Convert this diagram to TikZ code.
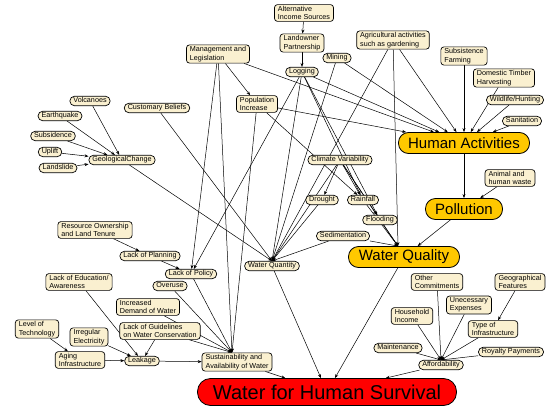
\documentclass[tikz,border=0pt]{standalone}
\usepackage{fontspec}
\setmainfont{Liberation Sans}
\usetikzlibrary{arrows.meta,backgrounds}
\definecolor{cream}{RGB}{250,240,208}
\definecolor{gold}{RGB}{255,200,0}
\begin{document}
\begin{tikzpicture}[x=1pt,y=-1pt,
  sm/.style={draw=black, line width=0.7pt, fill=cream, rounded corners=4.5pt,
    font=\fontsize{7.2}{8.5}\selectfont, inner xsep=3.5pt, inner ysep=1.3pt,
    text height=5.3pt, text depth=1.5pt},
  bx/.style={draw=black, line width=0.7pt, fill=cream, rounded corners=3pt,
    font=\fontsize{7.2}{8.5}\selectfont, align=left, inner xsep=3.5pt, inner ysep=1.5pt},
  big/.style={draw=black, line width=0.8pt, fill=gold, rounded corners=10pt,
    font=\fontsize{15}{16}\selectfont, minimum height=21pt, inner xsep=6pt, inner ysep=1pt},
  whsst/.style={draw=black, line width=0.8pt, fill=red, rounded corners=13pt,
    font=\fontsize{20}{22}\selectfont, minimum height=27pt, minimum width=259pt, inner ysep=1pt},
  edge/.style={-{Stealth[length=4pt,width=3pt]}, line width=0.5pt}]
\useasboundingbox (0,0) rectangle (551,409);
% top cluster
\node[bx] (alt) at (304,13) {Alternative\\Income Sources};
\node[bx] (land) at (302,43) {Landowner\\Partnership};
\node[sm] (mining) at (337,58) {Mining};
\node[sm] (logging) at (302,72) {Logging};
\node[bx] (agri) at (393,40) {Agricultural activities\\such as gardening};
\node[bx] (subs) at (464,56) {Subsistence\\Farming};
\node[bx] (dom) at (504,78) {Domestic Timber\\Harvesting};
\node[sm] (wild) at (515,100) {Wildlife/Hunting};
\node[sm] (sani) at (522,121) {Sanitation};
\node[big, minimum width=131pt] (ha) at (464,143) {Human Activities};
\node[bx] (waste) at (510,178) {Animal and\\human waste};
\node[big, minimum width=77pt] (poll) at (464,209) {Pollution};
\node[big, minimum width=111pt] (wqual) at (404,257) {Water Quality};
% middle
\node[sm] (cv) at (340,160) {Climate Variability};
\node[sm] (drought) at (322,200) {Drought};
\node[sm] (rain) at (363,200) {Rainfall};
\node[sm] (flood) at (380,220) {Flooding};
\node[sm] (sed) at (343,236) {Sedimentation};
\node[sm] (wqty) at (272,266) {Water Quantity};
\node[bx] (ml) at (218,54) {Management and\\Legislation};
\node[bx] (pop) at (257,104) {Population\\Increase};
\node[sm] (cust) at (157,108) {Customary Beliefs};
% geology
\node[sm] (volc) at (90,101) {Volcanoes};
\node[sm] (earth) at (60,116) {Earthquake};
\node[sm] (subsid) at (53,136) {Subsidence};
\node[sm] (uplift) at (50,152) {Uplift};
\node[sm] (lands) at (58,168) {Landslide};
\node[sm] (geo) at (122,160) {GeologicalChange};
% lower left
\node[bx] (res) at (95,230) {Resource Ownership\\and Land Tenure};
\node[sm] (lplan) at (150,256) {Lack of Planning};
\node[sm] (lpol) at (191,274) {Lack of Policy};
\node[sm] (over) at (170,286) {Overuse};
\node[bx] (ledu) at (79,282) {Lack of Education/\\Awareness};
\node[bx] (idem) at (148,307) {Increased\\Demand of Water};
\node[bx] (lguide) at (160,331) {Lack of Guidelines\\on Water Conservation};
\node[bx] (ltech) at (37,329) {Level of\\Technology};
\node[bx] (irr) at (89,337) {Irregular\\Electricity};
\node[bx] (aging) at (80,360) {Aging\\Infrastructure};
\node[sm] (leak) at (142,361) {Leakage};
\node[bx] (sust) at (237,362) {Sustainability and\\Availability of Water};
\node[whsst] (whs) at (327,392) {Water for Human Survival};
% lower right
\node[bx] (other) at (437,282) {Other\\Commitments};
\node[bx] (geof) at (520,282) {Geographical\\Features};
\node[bx] (unec) at (469,305) {Unecessary\\Expenses};
\node[bx] (hinc) at (412,316) {Household\\Income};
\node[bx] (toi) at (493,329) {Type of\\Infrastructure};
\node[sm] (maint) at (398,348) {Maintenance};
\node[sm] (roy) at (511,352) {Royalty Payments};
\node[sm] (aff) at (441,365) {Affordability};
% convergence points
\coordinate (wqtyin) at (wqty.north);
\coordinate (wqualin) at ([xshift=-6pt]wqual.north);
\coordinate (sustin) at ([xshift=-5pt]sust.north);
\coordinate (affin) at (aff.north);
\begin{pgfonlayer}{background}
\fill[white] (0,0) rectangle (551,409);
\foreach \a/\b in {alt/land, land/logging,
  logging/ha, mining/ha, agri/ha, subs/ha, dom/ha, wild/ha, sani/ha, ml/ha, pop/ha,
  ha/poll, waste/poll, poll/wqual,
  logging/lpol, logging/rain, logging/flood,
  ml/pop, ml/lpol, pop/rain,
  cv/drought, cv/rain, cv/flood,
  volc/geo, earth/geo, subsid/geo, uplift/geo, lands/geo,
  res/lplan, lplan/lpol,
  ledu/leak, lguide/leak, irr/leak, aging/leak, ltech/aging, leak/sust,
  sust/whs, wqty/whs, wqual/whs, aff/whs, geof/toi}
  \draw[edge] (\a) -- (\b);
\foreach \a in {agri, mining, logging, cv, drought, sed, cust, geo}
  \draw[edge] (\a) -- (wqtyin);
\foreach \a in {agri, cv, rain, flood, sed}
  \draw[edge] (\a) -- (wqualin);
\foreach \a in {ml, pop, lpol, over, idem, lguide}
  \draw[edge] (\a) -- (sustin);
\foreach \a in {other, hinc, unec, toi, maint, roy}
  \draw[edge] (\a) -- (affin);
\end{pgfonlayer}
\end{tikzpicture}
\end{document}
